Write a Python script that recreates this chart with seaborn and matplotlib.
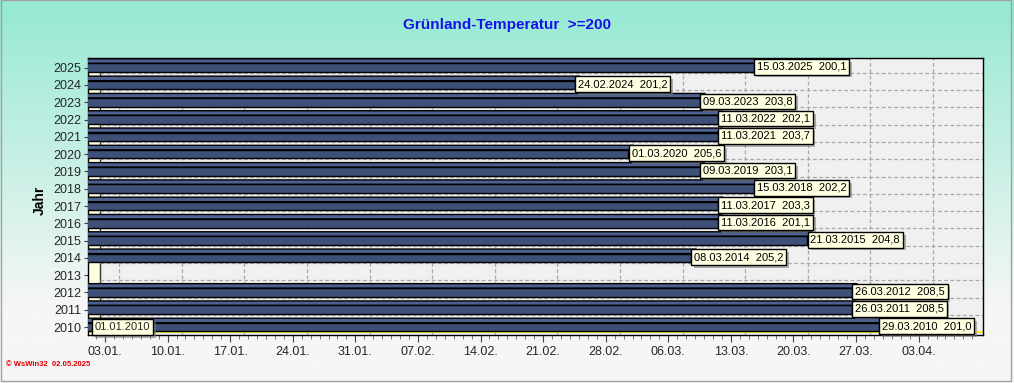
import numpy as np
import pandas as pd
import matplotlib
matplotlib.use("Agg")
import matplotlib.pyplot as plt
import matplotlib.patheffects as pe
from matplotlib.patches import Polygon, Rectangle
from matplotlib.colors import to_rgb
import seaborn as sns

# ---------------- data ----------------
year_order = [str(y) for y in range(2025, 2009, -1)]
bar_years = ["2025", "2024", "2023", "2022", "2021", "2020", "2019", "2018",
             "2017", "2016", "2015", "2014", "2012", "2011", "2010"]
reach_dates = ["15.03.2025", "24.02.2024", "09.03.2023", "11.03.2022", "11.03.2021",
               "01.03.2020", "09.03.2019", "15.03.2018", "11.03.2017", "11.03.2016",
               "21.03.2015", "08.03.2014", "26.03.2012", "26.03.2011", "29.03.2010"]
temp_sums = [200.1, 201.2, 203.8, 202.1, 203.7, 205.6, 203.1, 202.2,
             203.3, 201.1, 204.8, 205.2, 208.5, 208.5, 201.0]
start_label = "01.01.2010"
tick_labels = ["03.01.", "10.01.", "17.01.", "24.01.", "31.01.", "07.02.", "14.02.",
               "21.02.", "28.02.", "06.03.", "13.03.", "20.03.", "27.03.", "03.04."]
title = "Grünland-Temperatur  >=200"
footer = "© WsWin32  02.05.2025"

REF_YEAR = "2024"  # axis uses a leap-year calendar


def day_pos(ddmm):
    return pd.to_datetime(ddmm + REF_YEAR, format="%d.%m.%Y").dayofyear


df = pd.DataFrame({"Jahr": bar_years, "date": reach_dates, "sum": temp_sums})
df["pos"] = [day_pos(d[:6]) + 0.55 for d in df["date"]]

# ---------------- style ----------------
sns.set_theme(style="white")
plt.rcParams["font.family"] = ["Liberation Sans", "DejaVu Sans"]

W, H = 1014, 383
fig = plt.figure(figsize=(W / 100, H / 100), dpi=100)

# background gradient
bg = fig.add_axes([0, 0, 1, 1], zorder=-10)
n = 400
t = np.linspace(0, 1, n)
top_c = np.array(to_rgb("#95e9d3"))
bot_c = np.array(to_rgb("#f6f6f6"))
f = np.clip(t / 0.8, 0, 1)[:, None]
grad = top_c * (1 - f) + bot_c * f
bg.imshow(np.repeat(grad[:, None, :], 2, axis=1), aspect="auto", extent=[0, 1, 0, 1], origin="upper")
bg.set_xlim(0, 1); bg.set_ylim(0, 1)
bg.axis("off")

ax_l, ax_r, ax_t, ax_b = 88, 983, 58, 335
ax = fig.add_axes([ax_l / W, 1 - ax_b / H, (ax_r - ax_l) / W, (ax_b - ax_t) / H], zorder=1)
ax.set_facecolor("#f0f0f0")

bar_color = "#3e5078"
top_color = "#4d6190"

sns.barplot(data=df, x="pos", y="Jahr", order=year_order, orient="h",
            color=bar_color, saturation=1, width=0.5, edgecolor="black",
            linewidth=1, ax=ax, zorder=3)

xmin, xmax = 1.1, 101.2
ax.set_xlim(xmin, xmax)
ax.set_ylim(len(year_order) - 1 + 0.46, -0.56)

# 3D top faces of the bars
dx, dy = 0.6, 0.26
for p in list(ax.patches):
    x0, w, y0 = p.get_x(), p.get_width(), p.get_y()
    if not np.isfinite(w) or w <= 0:
        continue
    poly = Polygon([(x0, y0), (x0 + w, y0), (x0 + w + dx, y0 - dy), (x0 + dx, y0 - dy)],
                   closed=True, facecolor=top_color, edgecolor="black", lw=1, zorder=2.9)
    ax.add_patch(poly)

# left wall + floor
wall_w = 12 / (ax_r - ax_l)
ax.add_patch(Rectangle((0, 0), wall_w, 1, transform=ax.transAxes,
                       facecolor="#ffffe0", edgecolor="none", zorder=0.5))
ax.plot([wall_w, wall_w], [0, 0.975], transform=ax.transAxes, color="#303030", lw=1, zorder=0.6)
ax.plot([0, 1], [0.01, 0.01], transform=ax.transAxes, color="#f0e830", lw=1.5, zorder=2.5)

# grid
tick_pos = [day_pos(s) for s in tick_labels]
for i in range(len(year_order) - 1):
    ax.axhline(i + 0.5 - 0.2, xmin=wall_w, color="#a8a8a8", lw=0.9, ls=(0, (3, 2)), zorder=0.7)
for tp in tick_pos:
    ax.axvline(tp + 1.6, color="#a8a8a8", lw=0.9, ls=(0, (3, 2)), zorder=0.7)

# ticks
ax.set_xticks(tick_pos)
ax.set_xticklabels(tick_labels, fontsize=9)
ax.set_xticks(np.arange(2, 101), minor=True)
ax.tick_params(axis="x", which="major", direction="out", length=5, width=0.8,
               color="#404040", bottom=True, pad=3)
ax.tick_params(axis="x", which="minor", direction="out", length=3, width=0.6,
               color="#606060", bottom=True)
ax.tick_params(axis="y", which="major", direction="out", length=3, width=0.8,
               color="#404040", left=True, labelsize=9, pad=2)
ax.set_xlabel("")
ax.set_ylabel("")
for s in ax.spines.values():
    s.set_color("black")
    s.set_linewidth(1)

# value labels
shadow = [pe.SimplePatchShadow(offset=(2, -2), shadow_rgbFace="#808080", alpha=0.6), pe.Normal()]
for _, r in df.iterrows():
    yi = year_order.index(r["Jahr"])
    txt = f"{r['date']}  " + f"{r['sum']:.1f}".replace(".", ",")
    t = ax.annotate(txt, (r["pos"], yi - 0.05), xytext=(2.2, 0), textcoords="offset points",
                    ha="left", va="center", fontsize=8, color="black", zorder=5,
                    bbox=dict(boxstyle="square,pad=0.25", fc="#ffffe1", ec="black", lw=1))
    t.get_bbox_patch().set_path_effects(shadow)

start_pos = day_pos(start_label[:6]) + 0.5
t = ax.annotate(start_label, (start_pos, year_order.index("2010")), xytext=(2.2, 0),
                textcoords="offset points", ha="left", va="center", fontsize=8, zorder=6,
                bbox=dict(boxstyle="square,pad=0.25", fc="#ffffe1", ec="black", lw=1))
t.get_bbox_patch().set_path_effects(shadow)

# texts
fig.text(0.5, 1 - 25 / H, title, ha="center", va="center", color="#1414e6",
         fontsize=11, fontweight="bold")
fig.text(40 / W, 1 - 200 / H, "Jahr", rotation=90, ha="center", va="center",
         fontsize=10, fontweight="bold", color="black")
fig.text(6 / W, 1 - 364 / H, footer, ha="left", va="center", color="#e00000",
         fontsize=5.5, fontweight="bold")

fig.patches.append(Rectangle((0.0005, 0.004), 0.997, 0.995, transform=fig.transFigure,
                             fill=False, edgecolor="#a0a0a0", lw=1))

fig.savefig("out.png", dpi=100)
